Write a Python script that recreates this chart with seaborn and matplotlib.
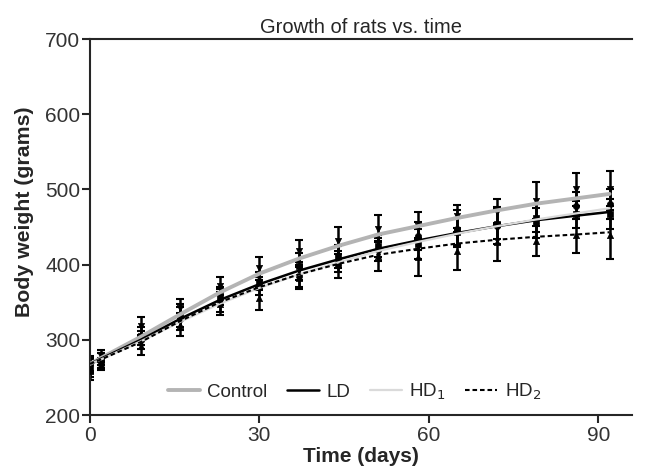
import numpy as np
import pandas as pd
import matplotlib
matplotlib.use('Agg')
from matplotlib import pyplot as plt
import seaborn as sns

# sampling days
days = [0, 2, 9, 16, 23, 30, 37, 44, 51, 58, 65, 72, 79, 86, 92]

# group means (grams)
control_mean = [266, 278, 318, 342, 372, 395, 418, 432, 448, 452, 464, 470, 485, 500, 501]
ld_mean = [262, 272, 305, 332, 358, 372, 398, 410, 425, 428, 444, 454, 462, 467, 467]
hd1_mean = [268, 274, 300, 328, 352, 378, 385, 400, 420, 438, 448, 452, 455, 478, 480]
hd2_mean = [258, 268, 292, 320, 348, 355, 382, 408, 412, 410, 418, 430, 432, 440, 440]

# standard deviations
control_sd = [10, 8, 12, 12, 12, 15, 15, 18, 18, 18, 15, 17, 25, 22, 23]
ld_sd = [12, 10, 12, 15, 12, 12, 18, 15, 15, 20, 18, 20, 18, 18, 20]
hd1_sd = [10, 8, 12, 15, 15, 12, 15, 18, 15, 18, 25, 25, 20, 18, 20]
hd2_sd = [12, 8, 12, 15, 15, 15, 15, 18, 20, 25, 25, 25, 20, 25, 32]

# fitted growth curves
control_fit = [268, 276, 304, 334, 363, 388, 408, 425, 440, 451, 462, 472, 481, 488, 494]
ld_fit = [268, 275, 300, 328, 353, 374, 392, 407, 421, 432, 442, 451, 459, 465, 470]
hd1_fit = [268, 274, 298, 324, 348, 369, 387, 403, 418, 430, 441, 451, 460, 468, 475]
hd2_fit = [268, 274, 297, 325, 350, 370, 387, 401, 413, 421, 428, 433, 437, 440, 443]

groups = ['Control', 'LD', 'HD$_1$', 'HD$_2$']
means = [control_mean, ld_mean, hd1_mean, hd2_mean]
sds = [control_sd, ld_sd, hd1_sd, hd2_sd]
fits = [control_fit, ld_fit, hd1_fit, hd2_fit]

sns.set_style('ticks')
plt.rcParams['font.family'] = ['Liberation Sans', 'DejaVu Sans']

fig = plt.figure(figsize=(6.47, 4.7), dpi=100)
ax = fig.add_axes([0.139, 0.117, 0.838, 0.800])

markers = ['v', 's', 'o', '^']
line_styles = [
    dict(color='#b4b4b4', lw=2.8, ls='-'),
    dict(color='black', lw=1.8, ls='-'),
    dict(color='#dadada', lw=1.6, ls='-'),
    dict(color='black', lw=1.5, ls=(0, (2.2, 1.4))),
]

# error bars + mean markers
for g, m, s, mk in zip(groups, means, sds, markers):
    ax.errorbar(days, m, yerr=s, fmt='none', ecolor='black', elinewidth=1.8,
                capsize=3, capthick=1.5, zorder=2)
    sns.scatterplot(x=days, y=m, marker=mk, color='black', s=20,
                    edgecolor='black', linewidth=0.5, zorder=3, ax=ax)

# fitted curves
for g, f, st in zip(groups, fits, line_styles):
    df = pd.DataFrame({'day': days, 'weight': f})
    sns.lineplot(data=df, x='day', y='weight', label=g, color=st['color'],
                 lw=st['lw'], ls=st['ls'], zorder=4, ax=ax)

ax.set(xlim=(0, 96), ylim=(200, 700))
ax.set_xticks([0, 30, 60, 90])
ax.set_yticks([200, 300, 400, 500, 600, 700])
ax.tick_params(axis='both', labelsize=15, labelcolor='#333333', width=1.5,
               length=6, direction='out')
ax.tick_params(axis='y', pad=1)
ax.tick_params(axis='x', pad=2)
for side in ['left', 'bottom', 'top']:
    ax.spines[side].set_linewidth(1.5)
ax.spines['right'].set_visible(False)

ax.set_title('Growth of rats vs. time', fontsize=14.5, pad=4)
ax.set_xlabel('Time (days)', fontsize=15, fontweight='bold', labelpad=1)
ax.set_ylabel('Body weight (grams)', fontsize=15.3, fontweight='bold')
ax.yaxis.set_label_coords(-0.103, 0.54)

ax.legend(loc='lower center', bbox_to_anchor=(0.488, -0.01), ncol=4, frameon=False,
          fontsize=13.5, handlelength=1.7, columnspacing=1.05, handletextpad=0.4)

fig.savefig('out.png', dpi=100)
